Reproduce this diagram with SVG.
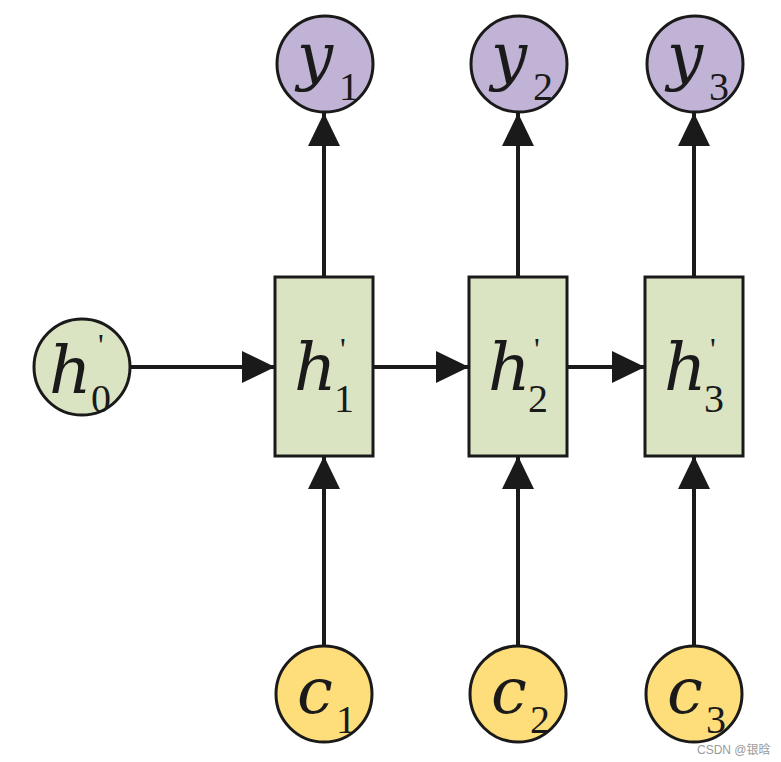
<svg xmlns="http://www.w3.org/2000/svg" width="781" height="762" viewBox="0 0 781 762">
<defs>
<marker id="ah" markerUnits="userSpaceOnUse" viewBox="0 0 33 32" markerWidth="33" markerHeight="32" refX="33" refY="16" orient="auto">
<path d="M0,0 L33,16 L0,32 Z" fill="#1a1a1a"/>
</marker>
<style>
.node{stroke:#1a1a1a;stroke-width:3}
.y{fill:#c0b3d6}
.g{fill:#dae4c3}
.c{fill:#fedd7b}
.e{stroke:#1a1a1a;stroke-width:4;fill:none}
.v{font-family:'DejaVu Serif',serif;font-style:italic;fill:#1a1a1a}
.s{font-family:'Liberation Serif','Times New Roman',serif;font-size:40px;fill:#1a1a1a}
.p{font-family:'Liberation Serif','Times New Roman',serif;font-size:32px;fill:#1a1a1a}
.w{font-family:'Liberation Sans','Noto Sans CJK SC',sans-serif;font-size:12px;fill:#9a9a9a}
</style>
</defs>
<rect width="781" height="762" fill="#ffffff"/>
<g id="connectors">
<line class="e" x1="130" y1="367" x2="275" y2="367" marker-end="url(#ah)"/>
<line class="e" x1="373" y1="367" x2="469" y2="367" marker-end="url(#ah)"/>
<line class="e" x1="567" y1="367" x2="645" y2="367" marker-end="url(#ah)"/>
<line class="e" x1="324" y1="645" x2="324" y2="456" marker-end="url(#ah)"/>
<line class="e" x1="518" y1="645" x2="518" y2="456" marker-end="url(#ah)"/>
<line class="e" x1="694" y1="645" x2="694" y2="456" marker-end="url(#ah)"/>
<line class="e" x1="324" y1="277" x2="324" y2="113" marker-end="url(#ah)"/>
<line class="e" x1="518" y1="277" x2="518" y2="113" marker-end="url(#ah)"/>
<line class="e" x1="694" y1="277" x2="694" y2="113" marker-end="url(#ah)"/>
</g>
<g id="y1"><circle class="node y" cx="325" cy="64" r="48"/><text class="v" x="297" y="78" font-size="64">y</text><text class="s" x="339" y="100">1</text></g>
<g id="y2"><circle class="node y" cx="519" cy="64" r="48"/><text class="v" x="491" y="78" font-size="64">y</text><text class="s" x="533" y="100">2</text></g>
<g id="y3"><circle class="node y" cx="695" cy="64" r="48"/><text class="v" x="667" y="78" font-size="64">y</text><text class="s" x="709" y="100">3</text></g>
<g id="h0"><circle class="node g" cx="82" cy="367" r="48"/><text class="v" x="49" y="393" font-size="66">h</text><text class="s" x="91" y="412">0</text><text class="p" x="98" y="356">'</text></g>
<g id="h1"><rect class="node g" x="275" y="277" width="98" height="179"/><text class="v" x="294" y="390" font-size="66">h</text><text class="s" x="334" y="412">1</text><text class="p" x="340" y="360">'</text></g>
<g id="h2"><rect class="node g" x="469" y="277" width="98" height="179"/><text class="v" x="488" y="390" font-size="66">h</text><text class="s" x="528" y="412">2</text><text class="p" x="534" y="360">'</text></g>
<g id="h3"><rect class="node g" x="645" y="277" width="98" height="179"/><text class="v" x="664" y="390" font-size="66">h</text><text class="s" x="704" y="412">3</text><text class="p" x="710" y="360">'</text></g>
<g id="c1"><circle class="node c" cx="324" cy="694" r="48"/><text class="v" x="297" y="713" font-size="64">c</text><text class="s" x="336" y="733">1</text></g>
<g id="c2"><circle class="node c" cx="518" cy="694" r="48"/><text class="v" x="491" y="713" font-size="64">c</text><text class="s" x="530" y="733">2</text></g>
<g id="c3"><circle class="node c" cx="694" cy="694" r="48"/><text class="v" x="667" y="713" font-size="64">c</text><text class="s" x="706" y="733">3</text></g>
<text class="w" x="697" y="754">CSDN @银晗</text>
</svg>
